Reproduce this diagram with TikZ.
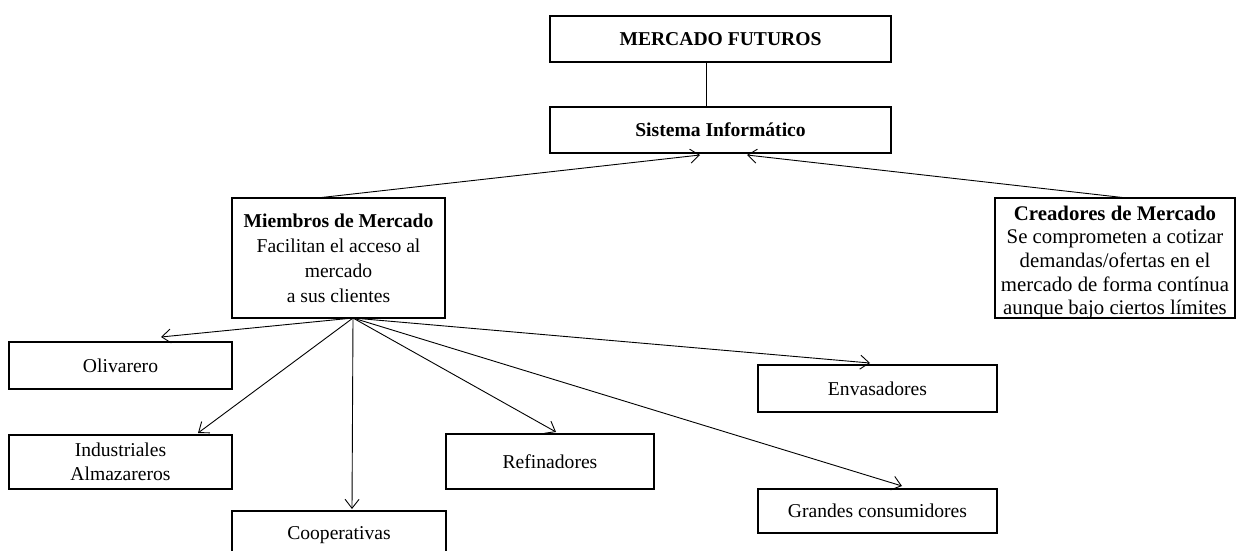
\documentclass[tikz,border=0pt]{standalone}
\usepackage{fontspec}
\setmainfont{Liberation Serif}
\usetikzlibrary{arrows.meta}
\begin{document}
\begin{tikzpicture}[x=1pt,y=-1pt,
  box/.style={draw, line width=1.8pt, rectangle, align=center, inner sep=0pt, font=\fontsize{19.6}{24}\selectfont},
  txt/.style={align=center, inner sep=0pt},
  arr/.style={line width=0.9pt, -{Straight Barb[length=9pt,width=14pt]}},
  con/.style={line width=0.9pt}]
\useasboundingbox (0,0) rectangle (1236,550);
\clip (0,0) rectangle (1236,550);
\node[box, minimum width=341, minimum height=46] (mf) at (720.5,39) {\textbf{MERCADO FUTUROS}};
\node[box, minimum width=341, minimum height=46] (si) at (720.5,130) {\textbf{Sistema Informático}};
\node[box, minimum width=213, minimum height=120, font=\fontsize{19.6}{25}\selectfont] (mm) at (338.5,258) {\textbf{Miembros de Mercado}\\Facilitan el acceso al\\mercado\\a sus clientes};
\node[box, minimum width=240, minimum height=120] (cm) at (1115,258) {};
\node[txt, font=\fontsize{20.8}{23.6}\selectfont] (cmt) at (1115,262.5) {\textbf{Creadores de Mercado}\\Se comprometen a cotizar\\demandas/ofertas en el\\mercado de forma contínua\\aunque bajo ciertos límites};
\node[box, minimum width=223, minimum height=47] (ol) at (120.5,365.5) {Olivarero};
\node[box, minimum width=223, minimum height=54] (ind) at (120.5,462) {Industriales\\Almazareros};
\node[box, minimum width=214, minimum height=48] (coop) at (339,535) {Cooperativas};
\node[box, minimum width=208, minimum height=55] (ref) at (550,461.5) {Refinadores};
\node[box, minimum width=239, minimum height=47] (env) at (877.5,388.5) {Envasadores};
\node[box, minimum width=239, minimum height=44] (gc) at (877.5,511) {Grandes consumidores};

\coordinate (lk) at (706,0);
\draw[con] (mf.south -| lk) -- (si.north -| lk);

\coordinate (mmtop) at (317,198);
\coordinate (cmtop) at (1127,198);
\coordinate (siL) at (700,155);
\coordinate (siR) at (747,155);
\draw[arr] (mmtop) -- (siL);
\draw[arr] (cmtop) -- (siR);

\coordinate (fan) at (353,318);
\coordinate (eol) at (161,337);
\coordinate (eind) at (198,433);
\coordinate (ecoop) at (352,509);
\coordinate (eref) at (556,432);
\coordinate (eenv) at (870,363);
\coordinate (egc) at (902,486);
\draw[arr] (fan) -- (eol);
\draw[arr] (fan) -- (eind);
\draw[arr] (fan) -- (ecoop);
\draw[arr] (fan) -- (eref);
\draw[arr] (fan) -- (eenv);
\draw[arr] (fan) -- (egc);
\end{tikzpicture}
\end{document}
